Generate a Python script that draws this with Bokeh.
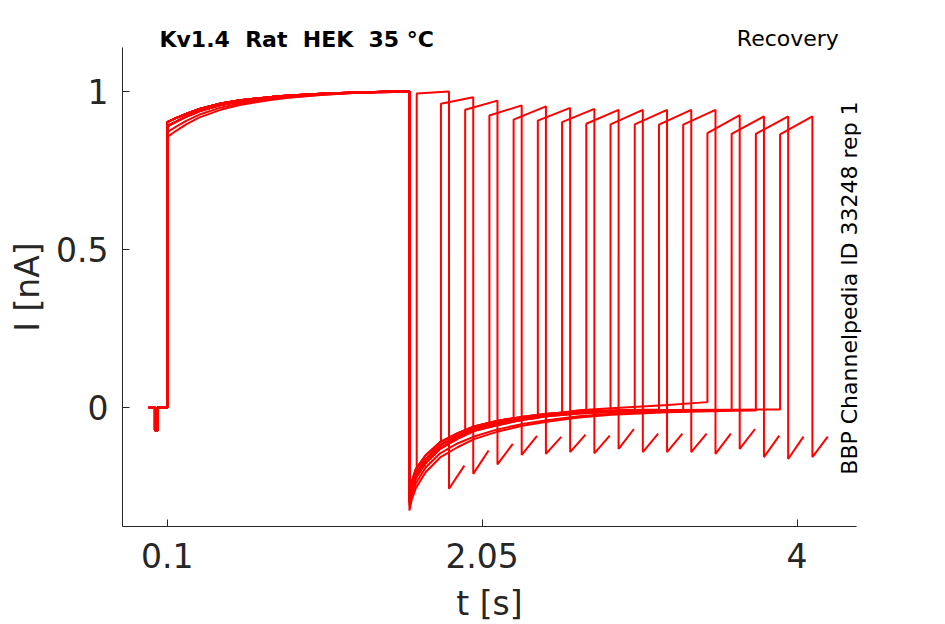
import math
from bokeh.plotting import figure
from bokeh.models import (Range1d, FixedTicker, CustomJSTickFormatter, Label,
                          ColumnDataSource, LinearAxis)
from bokeh.embed import file_html
from bokeh.resources import INLINE

# ---------------- data ----------------
# holding segment (with short hyperpolarising leak step)
hold_t = [-0.014, 0.024, 0.024, 0.040, 0.040, 0.100]
hold_i = [0.0, 0.0, -0.072, -0.072, 0.0, 0.0]

# conditioning pre-pulse (0.1 s .. 1.6 s), four amplitude variants
pre_t = [0.10, 0.15, 0.22, 0.30, 0.43, 0.55, 0.65, 0.75, 0.85, 1.05, 1.25, 1.45, 1.60]
pre_high = [0.903, 0.915, 0.930, 0.945, 0.962, 0.972, 0.978, 0.983, 0.987, 0.993, 0.997, 0.999, 1.0]
pre_mid = [0.890, 0.903, 0.921, 0.938, 0.957, 0.968, 0.975, 0.981, 0.985, 0.992, 0.996, 0.999, 1.0]
pre_low = [0.871, 0.887, 0.908, 0.927, 0.949, 0.962, 0.970, 0.977, 0.982, 0.990, 0.995, 0.998, 1.0]
pre_lowest = [0.855, 0.874, 0.897, 0.918, 0.942, 0.957, 0.966, 0.974, 0.980, 0.989, 0.995, 0.998, 1.0]

# tail currents after the pre-pulse (recovery interval)
tail_t = [1.60, 1.615, 1.64, 1.70, 1.79, 1.90, 2.00, 2.14, 2.30, 2.45, 2.65, 2.85, 3.20, 3.60, 4.00]
tail_up = [-0.275, -0.235, -0.195, -0.152, -0.110, -0.081, -0.060, -0.043, -0.029, -0.020, -0.013, -0.009, -0.006, -0.005, -0.004]
tail_mid = [-0.290, -0.250, -0.210, -0.165, -0.120, -0.090, -0.067, -0.050, -0.033, -0.023, -0.016, -0.011, -0.008, -0.007, -0.006]
tail_lo = [-0.300, -0.262, -0.222, -0.176, -0.130, -0.098, -0.074, -0.056, -0.039, -0.028, -0.019, -0.014, -0.010, -0.008, -0.007]
tail_d = [-0.310, -0.275, -0.240, -0.190, -0.145, -0.113, -0.092, -0.070, -0.052, -0.040, -0.028, -0.020, -0.013, -0.009, -0.007]
tail_e = [-0.326, -0.290, -0.255, -0.205, -0.158, -0.125, -0.100, -0.077, -0.058, -0.045, -0.032, -0.023, -0.015, -0.010, -0.008]
tail_f = [-0.290, -0.250, -0.210, -0.165, -0.120, -0.090, -0.067, -0.050, -0.035, -0.022, -0.009, -0.002, 0.008, 0.020, 0.025]

# per-sweep variants
sweep_pre = ["high", "mid", "high", "mid", "high", "mid", "high", "high",
             "mid", "high", "mid", "high", "mid", "low", "lowest", "mid"]
sweep_tail = ["mid", "up", "lo", "mid", "up", "lo", "mid", "up",
              "lo", "mid", "up", "lo", "f", "d", "e", "mid"]

# test pulse timing and amplitudes
test_start = [1.645, 1.795, 1.945, 2.095, 2.245, 2.395, 2.545, 2.695,
              2.845, 2.995, 3.145, 3.295, 3.445, 3.595, 3.745, 3.895]
test_end = [1.845, 1.995, 2.145, 2.295, 2.445, 2.595, 2.745, 2.895,
            3.045, 3.195, 3.345, 3.495, 3.645, 3.795, 3.945, 4.095]
sweep_end = [1.940, 2.090, 2.240, 2.390, 2.540, 2.690, 2.840, 2.990,
             3.140, 3.290, 3.440, 3.590, 3.740, 3.890, 4.040, 4.190]
base_at_start = [-0.206, -0.108, -0.087, -0.055, -0.033, -0.033, -0.020, -0.012,
                 -0.014, -0.010, -0.006, -0.0095, 0.017, -0.009, -0.0095, -0.0065]
test_on = [0.994, 0.961, 0.942, 0.924, 0.911, 0.908, 0.903, 0.898,
           0.896, 0.896, 0.895, 0.895, 0.868, 0.866, 0.866, 0.864]
test_off = [1.000, 0.982, 0.971, 0.956, 0.953, 0.948, 0.945, 0.942,
            0.942, 0.942, 0.942, 0.942, 0.925, 0.921, 0.921, 0.921]
post_on = [-0.257, -0.210, -0.180, -0.150, -0.147, -0.141, -0.145, -0.131,
           -0.141, -0.141, -0.141, -0.147, -0.131, -0.157, -0.163, -0.157]
post_off = [-0.184, -0.136, -0.115, -0.090, -0.093, -0.086, -0.089, -0.068,
            -0.083, -0.083, -0.083, -0.083, -0.068, -0.089, -0.092, -0.092]

x_ticks = [0.1, 2.05, 4]
y_ticks = [0, 0.5, 1]
x_axis_span = (-0.177, 4.368)
y_axis_span = (-0.377, 1.139)

title_text = "Kv1.4\u00a0 Rat\u00a0 HEK\u00a0 35 °C"
protocol_text = "Recovery"
id_text = "BBP Channelpedia ID 33248 rep 1"

pre_map = {"high": pre_high, "mid": pre_mid, "low": pre_low, "lowest": pre_lowest}
tail_map = {"up": tail_up, "mid": tail_mid, "lo": tail_lo, "d": tail_d, "e": tail_e, "f": tail_f}

xs, ys = [], []
for k in range(len(test_start)):
    t = list(hold_t) + list(pre_t)
    y = list(hold_i) + list(pre_map[sweep_pre[k]])
    tv = tail_map[sweep_tail[k]]
    for tt, vv in zip(tail_t, tv):
        if tt < test_start[k]:
            t.append(tt)
            y.append(vv)
    t += [test_start[k], test_start[k], test_end[k], test_end[k], sweep_end[k]]
    y += [base_at_start[k], test_on[k], test_off[k], post_on[k], post_off[k]]
    xs.append(t)
    ys.append(y)

src = ColumnDataSource(data=dict(xs=xs, ys=ys))

# ---------------- figure ----------------
# the frame fills the canvas; axes sit at fixed data locations
p = figure(width=945, height=624, output_backend="svg", toolbar_location=None,
           x_range=Range1d(-0.93220, 4.91920), y_range=Range1d(-0.68671, 1.28797),
           x_axis_location=None, y_axis_location=None, title=None,
           min_border=0, min_border_left=0, min_border_right=0,
           min_border_top=0, min_border_bottom=0)
p.outline_line_color = None
p.background_fill_color = "white"
p.border_fill_color = "white"
p.xgrid.visible = False
p.ygrid.visible = False

p.multi_line(xs="xs", ys="ys", source=src, line_color="#ff0000", line_width=2)

ink = "#262626"
xaxis = LinearAxis(fixed_location=y_axis_span[0], bounds=x_axis_span,
                   ticker=FixedTicker(ticks=x_ticks),
                   formatter=CustomJSTickFormatter(code="return tick.toString()"),
                   axis_label="t [s]")
yaxis = LinearAxis(fixed_location=x_axis_span[0], bounds=y_axis_span,
                   ticker=FixedTicker(ticks=y_ticks),
                   formatter=CustomJSTickFormatter(code="return tick.toString()"),
                   axis_label="I [nA]")
for ax in (xaxis, yaxis):
    ax.axis_line_color = ink
    ax.axis_line_width = 1
    ax.major_tick_line_color = ink
    ax.major_tick_in = 7
    ax.major_tick_out = 0
    ax.minor_tick_line_color = None
    ax.major_label_text_font = "DejaVu Sans"
    ax.major_label_text_font_size = "33px"
    ax.major_label_text_color = ink
    ax.axis_label_text_font = "DejaVu Sans"
    ax.axis_label_text_font_size = "33px"
    ax.axis_label_text_font_style = "normal"
    ax.axis_label_text_color = ink
xaxis.major_label_standoff = 16
yaxis.major_label_standoff = 14
xaxis.axis_label_standoff = 13
yaxis.axis_label_standoff = 6
p.add_layout(xaxis, "below")
p.add_layout(yaxis, "left")

p.add_layout(Label(x=0.052, y=1.166, text=title_text, text_font="DejaVu Sans",
                   text_font_style="bold", text_font_size="22px", text_color="black",
                   text_align="left", text_baseline="alphabetic"))
p.add_layout(Label(x=4.259, y=1.168, text=protocol_text, text_font="DejaVu Sans",
                   text_font_size="22px", text_color="black",
                   text_align="right", text_baseline="alphabetic"))
p.add_layout(Label(x=4.323, y=0.378, text=id_text, text_font="DejaVu Sans",
                   text_font_size="22px", text_color="black", angle=math.pi / 2,
                   text_align="center", text_baseline="alphabetic"))

open("out.html", "w").write(file_html(p, INLINE))
